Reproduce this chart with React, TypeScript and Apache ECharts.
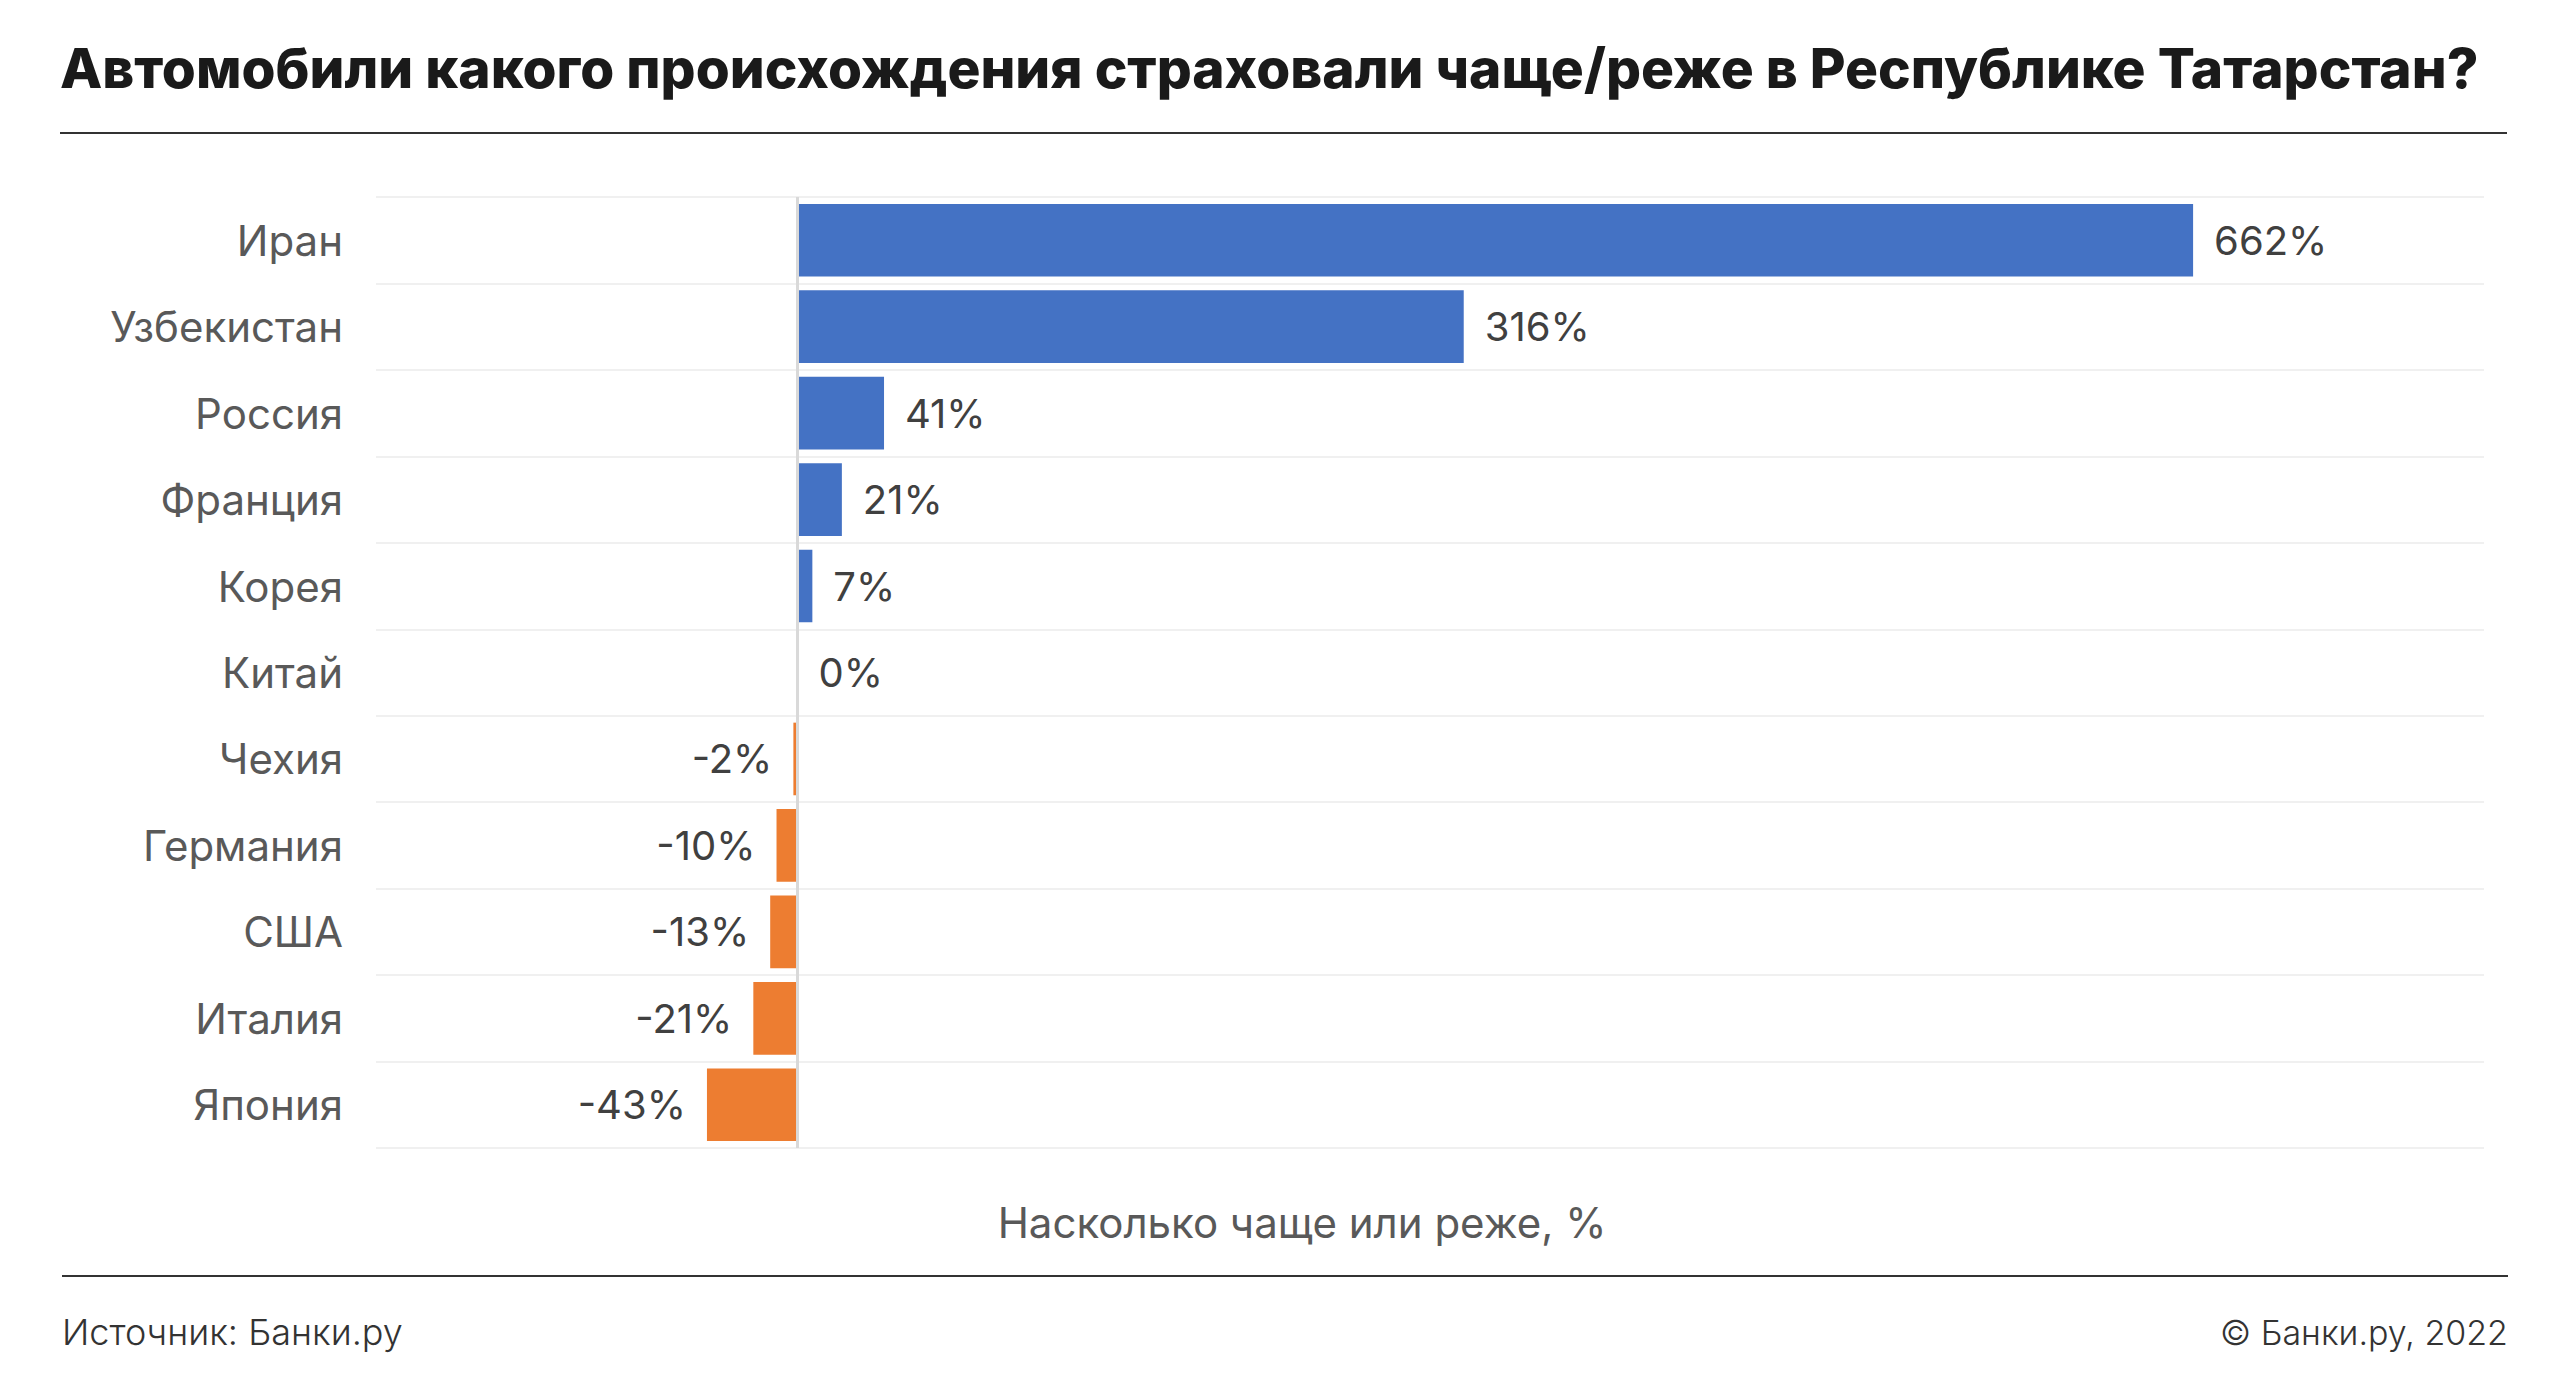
import React, { useEffect, useRef } from "react";
import * as echarts from "echarts";

const categories = [
  "Иран",
  "Узбекистан",
  "Россия",
  "Франция",
  "Корея",
  "Китай",
  "Чехия",
  "Германия",
  "США",
  "Италия",
  "Япония",
];
const values = [662, 316, 41, 21, 7, 0, -2, -10, -13, -21, -43];

const titleText = "Автомобили какого происхождения страховали чаще/реже в Республике Татарстан?";
const axisNameText = "Насколько чаще или реже, %";
const sourceText = "Источник: Банки.ру";
const copyrightText = "© Банки.ру, 2022";

const POS_COLOR = "#4472C4";
const NEG_COLOR = "#ED7D31";
const FONT = "Inter, Roboto, 'Noto Sans', sans-serif";

export default function App() {
  const ref = useRef<HTMLDivElement>(null);

  useEffect(() => {
    document.body.style.margin = "0";
    if (!ref.current) return;
    const chart = echarts.init(ref.current, null, { renderer: "svg" });

    const data = values.map((v) => ({
      value: v,
      itemStyle: { color: v < 0 ? NEG_COLOR : POS_COLOR },
      label: { position: v < 0 ? "left" : "right" },
    }));

    chart.setOption({
      animation: false,
      backgroundColor: "#ffffff",
      textStyle: { fontFamily: FONT },
      grid: { left: 376, right: 85, top: 197, bottom: 232, containLabel: false },
      xAxis: {
        type: "value",
        min: -200,
        max: 800,
        axisLine: { show: false },
        axisTick: { show: false },
        axisLabel: { show: false },
        splitLine: { show: false },
      },
      yAxis: {
        type: "category",
        inverse: true,
        data: categories,
        axisLine: { show: false, onZero: false },
        axisTick: { show: false },
        axisLabel: {
          margin: 33,
          fontSize: 42,
          color: "#595959",
          fontFamily: FONT,
          padding: [6, 0, 0, 0],
        },
        splitLine: { show: true, lineStyle: { color: "#f0f0f0", width: 2 } },
      },
      series: [
        {
          type: "bar",
          data,
          barCategoryGap: "16%",
          label: {
            show: true,
            distance: 21,
            formatter: "{c}%",
            fontSize: 40,
            color: "#404040",
            fontFamily: FONT,
            padding: [6, 0, 0, 0],
          },
          markLine: {
            silent: true,
            symbol: "none",
            label: { show: false },
            lineStyle: { color: "#d9d9d9", width: 3, type: "solid" },
            data: [{ xAxis: 0 }],
          },
        },
      ],
      graphic: [
        {
          type: "text",
          left: 60,
          top: 40,
          style: {
            text: titleText,
            fontSize: 55,
            fontWeight: 800,
            fill: "#1a1a1a",
            fontFamily: FONT,
          },
        },
        {
          type: "line",
          shape: { x1: 60, y1: 133, x2: 2507, y2: 133 },
          style: { stroke: "#333333", lineWidth: 2 },
        },
        {
          type: "text",
          x: 1302,
          y: 1222,
          style: {
            text: axisNameText,
            fontSize: 42,
            fill: "#595959",
            align: "center",
            verticalAlign: "middle",
            fontFamily: FONT,
          },
        },
        {
          type: "line",
          shape: { x1: 62, y1: 1276, x2: 2508, y2: 1276 },
          style: { stroke: "#333333", lineWidth: 2 },
        },
        {
          type: "text",
          x: 62,
          y: 1332,
          style: {
            text: sourceText,
            fontSize: 36,
            fontWeight: 300,
            fill: "#333333",
            align: "left",
            verticalAlign: "middle",
            fontFamily: FONT,
          },
        },
        {
          type: "text",
          x: 2508,
          y: 1332,
          style: {
            text: copyrightText,
            fontSize: 34,
            fontWeight: 300,
            fill: "#333333",
            align: "right",
            verticalAlign: "middle",
            fontFamily: FONT,
          },
        },
      ],
    });

    return () => chart.dispose();
  }, []);

  return <div ref={ref} style={{ width: 2569, height: 1380 }} />;
}
